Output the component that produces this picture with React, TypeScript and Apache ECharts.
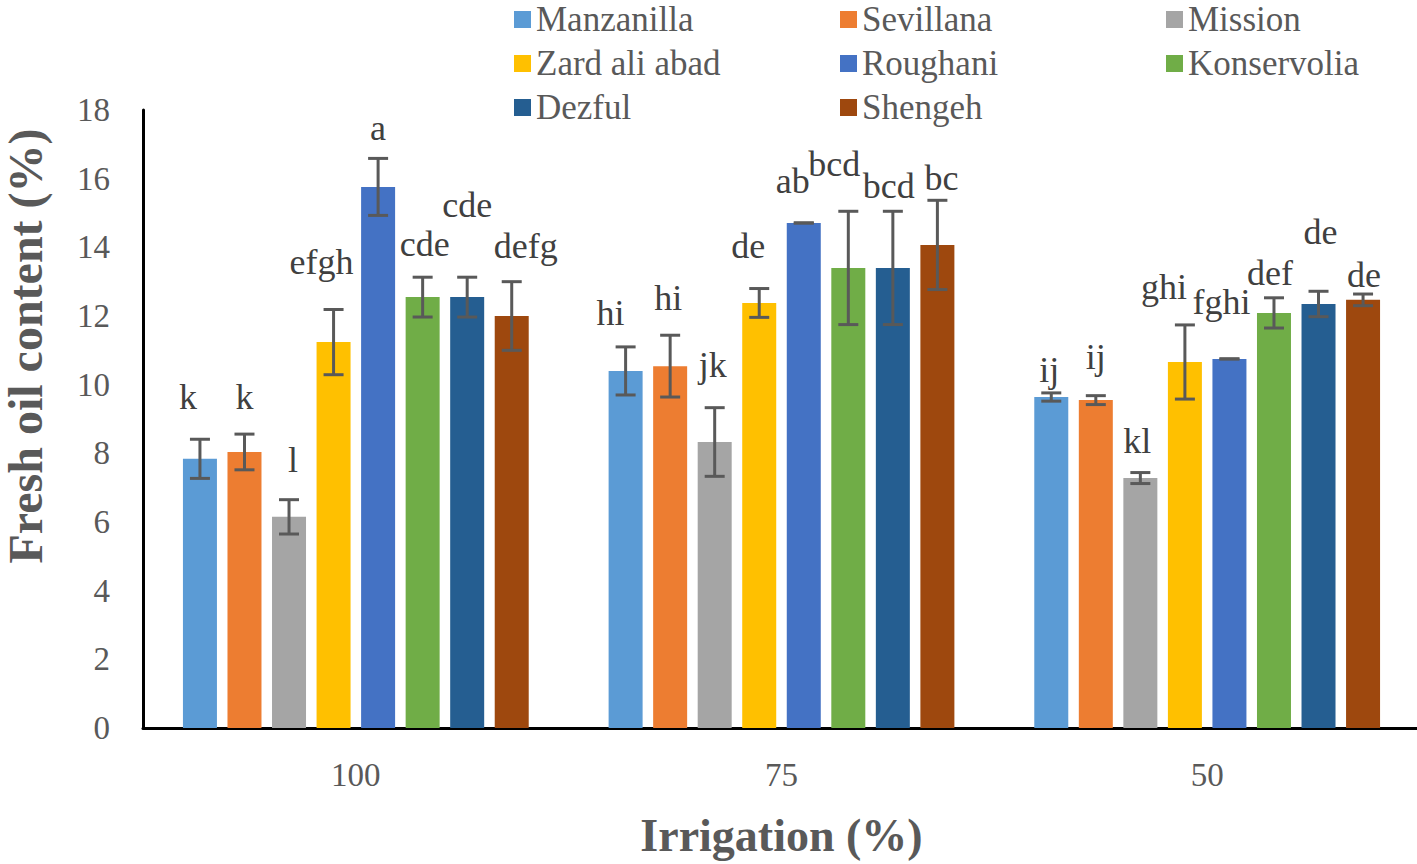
import React, { useEffect, useRef } from "react";
import * as echarts from "echarts";

const categories = ["100", "75", "50"];
const cultivars = [
  "Manzanilla",
  "Sevillana",
  "Mission",
  "Zard ali abad",
  "Roughani",
  "Konservolia",
  "Dezful",
  "Shengeh",
];
const colors = ["#5B9BD5", "#ED7D31", "#A5A5A5", "#FFC000", "#4472C4", "#70AD47", "#255E91", "#9E480E"];

// mean fresh oil content (%) for irrigation 100, 75, 50
const manzanilla = [7.84, 10.4, 9.64];
const sevillana = [8.04, 10.54, 9.55];
const mission = [6.15, 8.33, 7.28];
const zardAliAbad = [11.24, 12.38, 10.66];
const roughani = [15.76, 14.71, 10.75];
const konservolia = [12.55, 13.4, 12.09];
const dezful = [12.55, 13.4, 12.35];
const shengeh = [12.0, 14.07, 12.47];
const means = [manzanilla, sevillana, mission, zardAliAbad, roughani, konservolia, dezful, shengeh];

// standard errors
const manzanillaErr = [0.57, 0.7, 0.12];
const sevillanaErr = [0.52, 0.9, 0.13];
const missionErr = [0.5, 1.0, 0.16];
const zardAliAbadErr = [0.95, 0.42, 1.08];
const roughaniErr = [0.83, 0, 0];
const konservoliaErr = [0.58, 1.65, 0.44];
const dezfulErr = [0.58, 1.65, 0.37];
const shengehErr = [1.0, 1.3, 0.17];
const errors = [manzanillaErr, sevillanaErr, missionErr, zardAliAbadErr, roughaniErr, konservoliaErr, dezfulErr, shengehErr];

// significance letters
const manzanillaLetters = ["k", "hi", "ij"];
const sevillanaLetters = ["k", "hi", "ij"];
const missionLetters = ["l", "jk", "kl"];
const zardAliAbadLetters = ["efgh", "de", "ghi"];
const roughaniLetters = ["a", "ab", "fghi"];
const konservoliaLetters = ["cde", "bcd", "def"];
const dezfulLetters = ["cde", "bcd", "de"];
const shengehLetters = ["defg", "bc", "de"];
const letters = [manzanillaLetters, sevillanaLetters, missionLetters, zardAliAbadLetters, roughaniLetters, konservoliaLetters, dezfulLetters, shengehLetters];

// height (axis units) at which each letter label sits
const labelHeights = [
  [9.64, 12.09, 10.43],
  [9.64, 12.53, 10.81],
  [7.81, 10.57, 8.36],
  [13.57, 14.04, 12.85],
  [17.48, 15.93, 12.41],
  [14.1, 16.43, 13.25],
  [15.23, 15.79, 14.45],
  [14.04, 16.02, 13.2],
];
// horizontal nudge of letter labels (px)
const labelNudge = [
  [-12, -15, -2],
  [0, -2, 0],
  [4, -2, -3],
  [-12, -11, -21],
  [0, -11, -8],
  [2, -14, -4],
  [0, -4, 2],
  [14, 4, 1],
];

const BAR_W = 34;
const BAR_GAP = 0.31;
const STEP = BAR_W * (1 + BAR_GAP);
const FONT = "Liberation Serif";

export default function App() {
  const ref = useRef<HTMLDivElement>(null);
  useEffect(() => {
    if (!ref.current) return;
    const chart = echarts.init(ref.current, undefined, { renderer: "svg" });
    const barSeries = cultivars.map((name, i) => ({
      type: "bar",
      name,
      data: means[i],
      barWidth: BAR_W,
      barGap: `${BAR_GAP * 100}%`,
      itemStyle: { color: colors[i] },
      z: 2,
    }));
    const errSeries = cultivars.map((name, i) => ({
      type: "custom",
      name: name + " error",
      z: 5,
      data: categories.map((_, c) => [c, means[i][c], errors[i][c], labelHeights[i][c]]),
      encode: { x: 0, y: 1 },
      renderItem: (params: any, api: any) => {
        const c = api.value(0);
        const v = api.value(1);
        const e = api.value(2);
        const ly = api.value(3);
        const center = api.coord([c, v]);
        const x = center[0] + (i - 3.5) * STEP;
        const top = api.coord([c, v + e])[1];
        const bot = api.coord([c, v - e])[1];
        const lp = api.coord([c, ly])[1];
        const ls = { stroke: "#595959", lineWidth: 3 };
        const cap = 10;
        return {
          type: "group",
          children: [
            { type: "line", shape: { x1: x, y1: top, x2: x, y2: bot }, style: ls },
            { type: "line", shape: { x1: x - cap, y1: top, x2: x + cap, y2: top }, style: ls },
            { type: "line", shape: { x1: x - cap, y1: bot, x2: x + cap, y2: bot }, style: ls },
            {
              type: "text",
              x: x + labelNudge[i][c],
              y: lp,
              style: {
                text: letters[i][c],
                fontFamily: FONT,
                fontSize: 36,
                fill: "#404040",
                align: "center",
                verticalAlign: "middle",
              },
            },
          ],
        };
      },
    }));
    chart.setOption({
      animation: false,
      backgroundColor: "#ffffff",
      textStyle: { fontFamily: FONT },
      legend: {
        data: cultivars,
        left: 514,
        top: 2,
        padding: 0,
        width: 1000,
        itemGap: 9,
        itemWidth: 17,
        itemHeight: 17,
        icon: "rect",
        textStyle: {
          fontFamily: FONT,
          fontSize: 35,
          color: "#595959",
          width: 295,
          lineHeight: 34,
          overflow: "truncate",
        },
      },
      grid: { left: 143, right: -3, top: 110, bottom: 136, containLabel: false, outerBoundsMode: "none" },
      xAxis: {
        type: "category",
        data: categories,
        axisLine: { show: true, lineStyle: { color: "#000", width: 3 } },
        axisTick: { show: false },
        axisLabel: { fontFamily: FONT, fontSize: 33, color: "#595959", margin: 30 },
        name: "Irrigation (%)",
        nameLocation: "middle",
        nameGap: 84,
        nameTextStyle: { fontFamily: FONT, fontSize: 46, fontWeight: "bold", color: "#595959" },
      },
      yAxis: {
        type: "value",
        min: 0,
        max: 18,
        interval: 2,
        splitLine: { show: false },
        axisLine: { show: true, lineStyle: { color: "#000", width: 3 } },
        axisTick: { show: false },
        axisLabel: { fontFamily: FONT, fontSize: 33, color: "#595959", margin: 33 },
      },
      graphic: [
        {
          type: "text",
          x: 25,
          y: 346,
          rotation: Math.PI / 2,
          style: {
            text: "Fresh oil content (%)",
            fontFamily: FONT,
            fontSize: 48,
            fontWeight: "bold",
            fill: "#595959",
            align: "center",
            verticalAlign: "middle",
          },
        },
      ],
      series: [...barSeries, ...errSeries],
    });
    return () => chart.dispose();
  }, []);
  return <div ref={ref} style={{ position: "fixed", left: 0, top: 0, width: 1417, height: 864 }} />;
}
